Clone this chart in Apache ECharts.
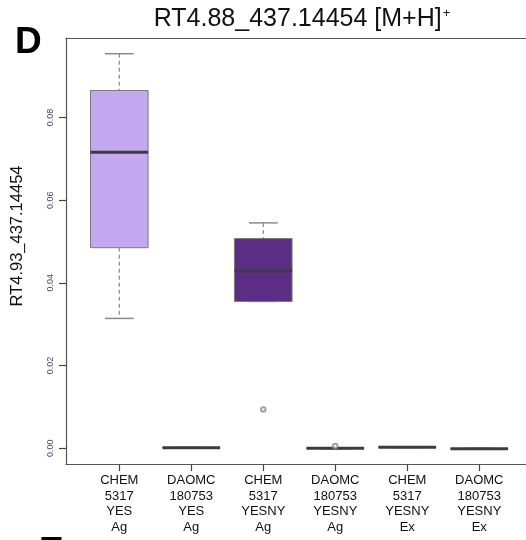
<!DOCTYPE html>
<html>
<head>
<meta charset="utf-8">
<style>
  html, body { margin: 0; padding: 0; background: #fff; }
  #chart { width: 526px; height: 540px; }
</style>
<script src="https://cdn.jsdelivr.net/npm/echarts@6/dist/echarts.min.js"></script>
</head>
<body>
<div id="chart"></div>
<script>
// Group labels (one per box, multi-line)
const categories = [
  'CHEM\n5317\nYES\nAg',
  'DAOMC\n180753\nYES\nAg',
  'CHEM\n5317\nYESNY\nAg',
  'DAOMC\n180753\nYESNY\nAg',
  'CHEM\n5317\nYESNY\nEx',
  'DAOMC\n180753\nYESNY\nEx'
];
// Five-number summaries per group: [lower whisker, Q1, median, Q3, upper whisker]
const boxStats = [
  [0.0314, 0.0485, 0.0716, 0.0865, 0.0954],
  [0.0001, 0.00015, 0.00015, 0.0002, 0.0002],
  [0.0355, 0.0355, 0.0429, 0.0507, 0.0545],
  [-0.0001, 0.0, 0.0, 0.0, 0.0001],
  [0.0002, 0.00025, 0.00025, 0.0003, 0.0003],
  [-0.0002, -0.0001, -0.0001, -0.0001, 0.0]
];
// Outlying points: [group index (0-based), value]
const outliers = [
  [2, 0.0094],
  [3, 0.00055]
];
// Box fill colours per group
const boxFills = ['#c4a9f0', '#c4a9f0', '#5c2d84', '#5c2d84', '#5c2d84', '#5c2d84'];
// Y tick positions
const yTicks = [0, 0.02, 0.04, 0.06, 0.08];

const FONT = '"Liberation Sans", Arial, sans-serif';
const xPositions = categories.map((c, i) => i + 1);

const chart = echarts.init(document.getElementById('chart'), null, { renderer: 'canvas' });

const boxData = boxStats.map((s, i) => [i + 1].concat(s));

// Draws one box: dashed whiskers, solid caps, filled box and a heavy median bar
function renderBox(params, api) {
  const x = api.value(0);
  const lo = api.coord([x, api.value(1)]);
  const q1 = api.coord([x, api.value(2)]);
  const md = api.coord([x, api.value(3)]);
  const q3 = api.coord([x, api.value(4)]);
  const hi = api.coord([x, api.value(5)]);
  const w = api.size([0.8, 0])[0];
  const cx = lo[0];
  const half = w / 2;
  const capHalf = w / 4;
  const fill = boxFills[params.dataIndex];
  const whisker = { stroke: '#8a8a8a', lineWidth: 1.2, lineDash: [4, 3] };
  const cap = { stroke: '#8a8a8a', lineWidth: 1.5 };
  return {
    type: 'group',
    children: [
      { type: 'line', shape: { x1: cx, y1: hi[1], x2: cx, y2: q3[1] }, style: whisker },
      { type: 'line', shape: { x1: cx, y1: q1[1], x2: cx, y2: lo[1] }, style: whisker },
      { type: 'line', shape: { x1: cx - capHalf, y1: hi[1], x2: cx + capHalf, y2: hi[1] }, style: cap },
      { type: 'line', shape: { x1: cx - capHalf, y1: lo[1], x2: cx + capHalf, y2: lo[1] }, style: cap },
      { type: 'rect', shape: { x: cx - half, y: q3[1], width: w, height: q1[1] - q3[1] },
        style: { fill: fill, stroke: '#7a7a7a', lineWidth: 1 } },
      { type: 'line', shape: { x1: cx - half, y1: md[1], x2: cx + half, y2: md[1] },
        style: { stroke: '#3c3c3c', lineWidth: 3 } }
    ]
  };
}

const frameLine = { show: true, onZero: false, lineStyle: { color: '#555', width: 1.2 } };
const tickStyle = { color: '#444', width: 1.2 };

chart.setOption({
  animation: false,
  backgroundColor: '#ffffff',
  title: {
    text: '{a|RT4.88_437.14454 [M+H]}{s|+}',
    left: 297,
    top: 2,
    textAlign: 'center',
    textStyle: {
      rich: {
        a: { fontFamily: FONT, fontSize: 25, fontWeight: 'normal', color: '#111' },
        s: { fontFamily: FONT, fontSize: 13, fontWeight: 'normal', color: '#111', verticalAlign: 'top', padding: [0, 0, 10, 1] }
      }
    }
  },
  graphic: [
    { type: 'text', left: 15, top: 24,
      style: { text: 'D', fontFamily: FONT, fontWeight: 'bold', fontSize: 37, fill: '#000' } },
    { type: 'text', left: 39, top: 534,
      style: { text: 'E', fontFamily: FONT, fontWeight: 'bold', fontSize: 37, fill: '#000' } }
  ],
  grid: {
    left: 66, top: 38, right: 0, bottom: 76,
    show: false
  },
  xAxis: [
    {
      type: 'value',
      min: 0.26,
      max: 6.649,
      splitLine: { show: false },
      axisLine: frameLine,
      axisTick: { show: true, length: 7, customValues: xPositions, lineStyle: tickStyle },
      axisLabel: {
        customValues: xPositions,
        formatter: v => categories[Math.round(v) - 1] || '',
        fontFamily: FONT, fontSize: 13, color: '#111', lineHeight: 15.5, margin: 9
      }
    },
    {
      // top edge of the plot frame
      type: 'value',
      position: 'top',
      min: 0.26,
      max: 6.649,
      splitLine: { show: false },
      axisLine: frameLine,
      axisTick: { show: false },
      axisLabel: { show: false }
    }
  ],
  yAxis: {
    type: 'value',
    min: -0.0038,
    max: 0.0992,
    name: 'RT4.93_437.14454',
    nameLocation: 'middle',
    nameRotate: 90,
    nameGap: 40,
    nameTextStyle: { fontFamily: FONT, fontSize: 16.5, color: '#111', padding: [0, 0, 0, 30] },
    splitLine: { show: false },
    axisLine: frameLine,
    axisTick: { show: true, length: 7, customValues: yTicks, lineStyle: tickStyle },
    axisLabel: {
      customValues: yTicks,
      rotate: 90,
      formatter: v => v.toFixed(2),
      fontFamily: FONT, fontSize: 9, color: '#4a4a66', margin: 11
    }
  },
  series: [
    {
      type: 'custom',
      renderItem: renderBox,
      data: boxData,
      encode: { x: 0, y: [1, 2, 3, 4, 5] },
      clip: false,
      z: 2
    },
    {
      type: 'scatter',
      data: outliers.map(o => [o[0] + 1, o[1]]),
      symbol: 'emptyCircle',
      symbolSize: 4.5,
      z: 3,
      itemStyle: { color: '#888', borderColor: '#888', borderWidth: 0.8 }
    }
  ]
});
</script>
</body>
</html>
